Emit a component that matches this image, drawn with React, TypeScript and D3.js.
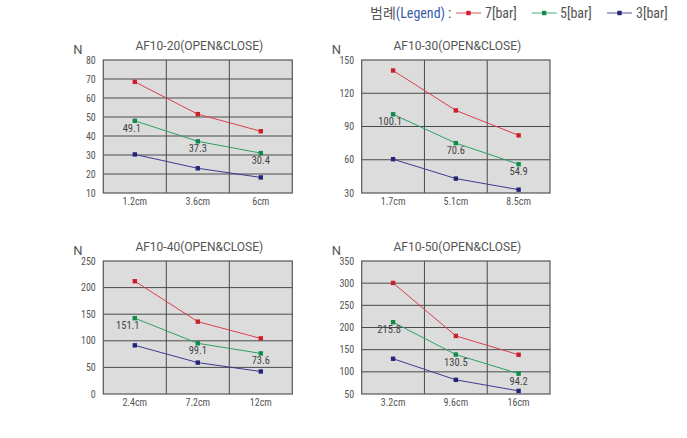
import React from "react";
import * as d3 from "d3";

const seriesNames = ["7[bar]", "5[bar]", "3[bar]"];
const lineColors = ["#d8404c", "#2ea062", "#3c3c8c"];
const markerColors = ["#cc1f2a", "#0e8c4c", "#24247a"];

const titles = [
  "AF10-20(OPEN&CLOSE)",
  "AF10-30(OPEN&CLOSE)",
  "AF10-40(OPEN&CLOSE)",
  "AF10-50(OPEN&CLOSE)",
];

const categories1 = ["1.2cm", "3.6cm", "6cm"];
const categories2 = ["1.7cm", "5.1cm", "8.5cm"];
const categories3 = ["2.4cm", "7.2cm", "12cm"];
const categories4 = ["3.2cm", "9.6cm", "16cm"];

const bar7_1 = [68.5, 51.5, 42.5];
const bar5_1 = [48, 37.2, 31];
const bar3_1 = [30.3, 23, 18.2];
const labels1 = ["49.1", "37.3", "30.4"];

const bar7_2 = [140.5, 104.5, 82];
const bar5_2 = [101, 75, 56];
const bar3_2 = [60.5, 43, 33];
const labels2 = ["100.1", "70.6", "54.9"];

const bar7_3 = [212, 136, 104.5];
const bar5_3 = [142.5, 95.3, 76.3];
const bar3_3 = [91.5, 59, 42.3];
const labels3 = ["151.1", "99.1", "73.6"];

const bar7_4 = [300.5, 181, 138.5];
const bar5_4 = [212, 139, 96];
const bar3_4 = [129.5, 82, 57];
const labels4 = ["215.8", "130.5", "94.2"];

const yTicks1 = [10, 20, 30, 40, 50, 60, 70, 80];
const yTicks2 = [30, 60, 90, 120, 150];
const yTicks3 = [0, 50, 100, 150, 200, 250];
const yTicks4 = [50, 100, 150, 200, 250, 300, 350];

const panels = [
  { title: titles[0], cats: categories1, series: [bar7_1, bar5_1, bar3_1], labels: labels1, ticks: yTicks1, x: 103.3, y: 60, w: 189, h: 133, dx0: -3 },
  { title: titles[1], cats: categories2, series: [bar7_2, bar5_2, bar3_2], labels: labels2, ticks: yTicks2, x: 361.7, y: 60, w: 188.3, h: 133, dx0: -3 },
  { title: titles[2], cats: categories3, series: [bar7_3, bar5_3, bar3_3], labels: labels3, ticks: yTicks3, x: 103.3, y: 261, w: 189, h: 133, dx0: -7 },
  { title: titles[3], cats: categories4, series: [bar7_4, bar5_4, bar3_4], labels: labels4, ticks: yTicks4, x: 361.7, y: 261, w: 188.3, h: 133, dx0: -4 },
];

const FONT = "'Roboto Condensed', 'Liberation Sans Narrow', 'DejaVu Sans Condensed', Roboto, sans-serif";
const WIDE = "Roboto, 'Noto Sans', sans-serif";
const TXT = "#555";

function Panel({ p }: { p: (typeof panels)[number] }) {
  const x = d3.scaleBand<string>().domain(p.cats).range([0, p.w]);
  const y = d3
    .scaleLinear()
    .domain([p.ticks[0], p.ticks[p.ticks.length - 1]])
    .range([p.h, 0]);
  const cx = (c: string) => (x(c) ?? 0) + x.bandwidth() / 2;
  const line = d3
    .line<number>()
    .x((_, i) => cx(p.cats[i]))
    .y((v) => y(v));
  return (
    <g transform={`translate(${p.x},${p.y})`}>
      <rect x={0} y={0} width={p.w} height={p.h} fill="#dcdcdc" />
      {p.ticks.slice(1, -1).map((t) => (
        <line key={"h" + t} x1={0} x2={p.w} y1={y(t)} y2={y(t)} stroke="#4a4a4a" strokeWidth={1} />
      ))}
      {p.cats.slice(1).map((c) => (
        <line key={"v" + c} x1={x(c)} x2={x(c)} y1={0} y2={p.h} stroke="#4a4a4a" strokeWidth={1} />
      ))}
      <rect x={0} y={0} width={p.w} height={p.h} fill="none" stroke="#555" strokeWidth={1.2} />
      {p.ticks.map((t) => (
        <text key={"t" + t} x={-7.5} y={y(t)} dy="0.35em" textAnchor="end" fontSize={10} fill={TXT} fontFamily={FONT}>
          {t}
        </text>
      ))}
      {p.cats.map((c) => (
        <text key={"c" + c} x={cx(c)} y={p.h + 11.5} textAnchor="middle" fontSize={10} fill={TXT} fontFamily={FONT}>
          {c}
        </text>
      ))}
      {p.series.map((s, si) => (
        <g key={"s" + si}>
          <path d={line(s) ?? ""} fill="none" stroke={lineColors[si]} strokeWidth={1} />
          {s.map((v, i) => (
            <rect key={i} x={cx(p.cats[i]) - 2.2} y={y(v) - 2.2} width={4.4} height={4.4} fill={markerColors[si]} />
          ))}
        </g>
      ))}
      {p.labels.map((l, i) => (
        <text
          key={"l" + i}
          x={cx(p.cats[i]) + (i === 0 ? p.dx0 : 0)}
          y={y(p.series[1][i]) + 11}
          textAnchor="middle"
          fontSize={10.5}
          fill="#444"
          fontFamily={FONT}
        >
          {l}
        </text>
      ))}
      <text x={p.w / 2 + 1.5} y={-10} textAnchor="middle" fontSize={12} fill={TXT} fontFamily={WIDE}>
        {p.title}
      </text>
      <text x={-30} y={-6} fontSize={13} fill={TXT} fontFamily={WIDE}>
        N
      </text>
    </g>
  );
}

function Legend() {
  const items = [
    { x1: 456, tx: 485 },
    { x1: 531.7, tx: 560 },
    { x1: 607, tx: 636 },
  ];
  const yl = 13;
  return (
    <g>
      <text x={370} y={18} fontSize={14} fontFamily={"'Noto Sans CJK KR', " + FONT} fill={TXT}>
        범례
        <tspan fill="#3a5ca8" fontFamily={FONT}>(Legend)</tspan>
        <tspan fontFamily={FONT} dx={3}>:</tspan>
      </text>
      {seriesNames.map((n, i) => (
        <g key={n}>
          <line x1={items[i].x1} x2={items[i].x1 + 25} y1={yl} y2={yl} stroke={lineColors[i]} strokeOpacity={0.6} strokeWidth={1.5} />
          <rect x={items[i].x1 + 12.5 - 2.2} y={yl - 2.2} width={4.4} height={4.4} fill={markerColors[i]} />
          <text x={items[i].tx} y={18} fontSize={14} fill={TXT} fontFamily={FONT}>
            {n}
          </text>
        </g>
      ))}
    </g>
  );
}

export default function App() {
  return (
    <svg width={687} height={438} style={{ position: "absolute", left: 0, top: 0, background: "#fff" }}>
      <Legend />
      {panels.map((p) => (
        <Panel key={p.title} p={p} />
      ))}
    </svg>
  );
}
